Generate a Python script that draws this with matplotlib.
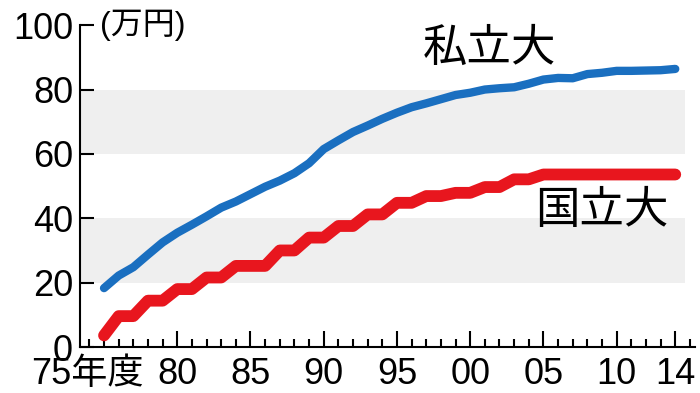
import numpy as np
import matplotlib
matplotlib.use("Agg")
from matplotlib import pyplot as plt
from matplotlib.ticker import MultipleLocator, FixedLocator
import matplotlib.transforms as mtransforms

plt.rcParams['font.family'] = ['Liberation Sans', 'Noto Sans CJK JP']

# 年度
years = list(range(1975, 2015))
# 私立大 授業料 (万円)
private = [18.3, 22.2, 24.8, 28.7, 32.5, 35.5, 38.0, 40.6, 43.3, 45.2,
           47.5, 49.8, 51.7, 54.0, 57.1, 61.5, 64.2, 66.8, 68.8, 70.9,
           72.8, 74.5, 75.7, 77.0, 78.3, 79.0, 80.0, 80.4, 80.7, 81.8,
           83.1, 83.6, 83.5, 84.8, 85.2, 85.8, 85.8, 85.9, 86.0, 86.4]
# 国立大 授業料 (万円)
national = [3.6, 9.6, 9.6, 14.4, 14.4, 18.0, 18.0, 21.6, 21.6, 25.2,
            25.2, 25.2, 30.0, 30.0, 34.0, 34.0, 37.6, 37.6, 41.2, 41.2,
            44.8, 44.8, 46.9, 46.9, 47.9, 47.9, 49.7, 49.7, 52.1, 52.1,
            53.6, 53.6, 53.6, 53.6, 53.6, 53.6, 53.6, 53.6, 53.6, 53.6]
xtick_pos = [1975, 1980, 1985, 1990, 1995, 2000, 2005, 2010, 2014]
xtick_labels = ['75年度', '80', '85', '90', '95', '00', '05', '10', '14']

fig = plt.figure(figsize=(7, 3.93), dpi=100)
ax = fig.add_axes([0.1143, 0.117, 0.879, 0.819])

# gray bands
for lo, hi in [(20, 40), (60, 80)]:
    ax.axhspan(lo, hi, xmin=0, xmax=0.984, color='#efefef', lw=0, zorder=0)

ax.plot(years, private, color='#1a6fc0', lw=6, solid_capstyle='round',
        solid_joinstyle='round', zorder=3)
ax.plot(years, national, color='#e8161e', lw=8.5, solid_capstyle='round',
        solid_joinstyle='round', zorder=3)

ax.set_xlim(1973.36, 2015.37)
ax.set_ylim(0, 100)

for s in ['top', 'right']:
    ax.spines[s].set_visible(False)
for s in ['left', 'bottom']:
    ax.spines[s].set_linewidth(1.5)

ax.yaxis.set_major_locator(MultipleLocator(20))
ax.tick_params(axis='y', direction='in', length=10, width=1.5, labelsize=26, pad=5)
ax.xaxis.set_major_locator(FixedLocator(xtick_pos))
ax.xaxis.set_minor_locator(MultipleLocator(1))
ax.set_xticklabels(xtick_labels)
ax.tick_params(axis='x', which='major', direction='in', length=11.5, width=1.5,
               labelsize=26, pad=7)
ax.tick_params(axis='x', which='minor', direction='in', length=6, width=1.5)

y0 = ax.get_yticklabels()[0]
y0.set_va('baseline')
y0.set_transform(y0.get_transform() +
                 mtransforms.ScaledTranslation(0, 3 / 100, fig.dpi_scale_trans))

xl = ax.get_xticklabels()[0]
xl.set_transform(xl.get_transform() +
                 mtransforms.ScaledTranslation(-17 / 100, 0, fig.dpi_scale_trans))

ax.text(0.033, 1.0, '(万円)', transform=ax.transAxes, fontsize=23,
        va='center', ha='left')
ax.text(2001.3, 92.5, '私立大', fontsize=32, ha='center', va='center')
ax.text(2009.0, 42, '国立大', fontsize=32, ha='center', va='center')

fig.savefig('out.png', dpi=100)
